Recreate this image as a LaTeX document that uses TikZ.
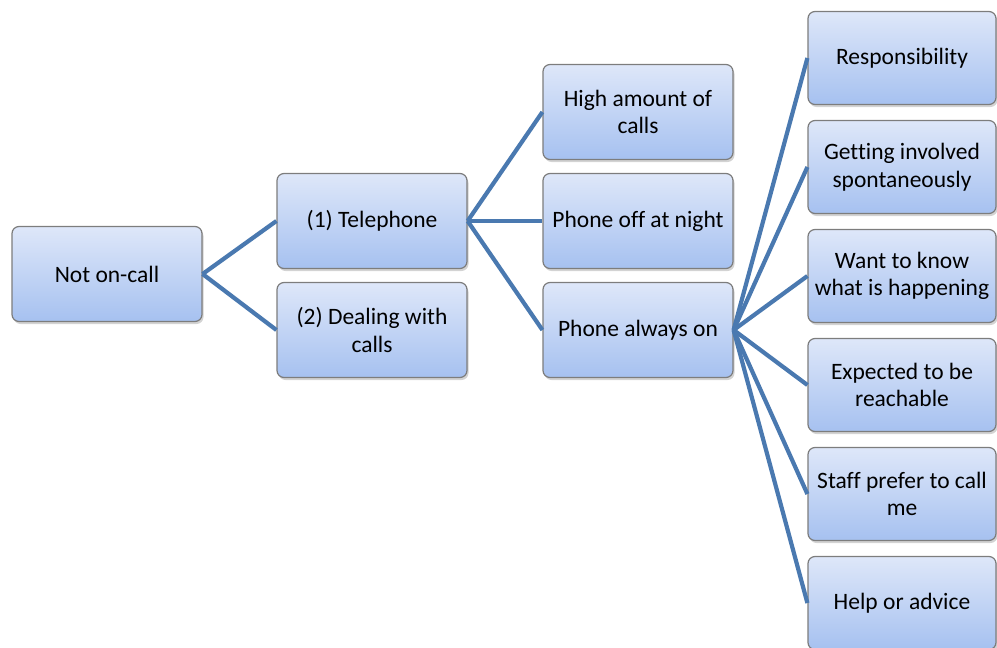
\documentclass[tikz,border=0pt]{standalone}
\usepackage{fontspec}
\setmainfont[Ligatures={NoCommon}]{Carlito}
\usetikzlibrary{shadows}
\definecolor{linkblue}{RGB}{74,121,176}
\definecolor{boxtop}{RGB}{222,231,249}
\definecolor{boxbot}{RGB}{166,193,240}
\definecolor{boxedge}{RGB}{125,125,125}
\tikzset{
  topic/.style={
    draw=boxedge, line width=1.2pt, rounded corners=7pt,
    top color=boxtop, bottom color=boxbot,
    minimum width=190pt, minimum height=95pt,
    align=center, inner sep=2pt,
    font=\fontsize{23.5}{27.5}\selectfont,
    drop shadow={shadow xshift=1.5pt, shadow yshift=-2.5pt, opacity=0.35}
  },
  leaf/.style={topic, minimum width=188pt, minimum height=93pt},
  link/.style={draw=linkblue, line width=4.2pt}
}
\begin{document}
\begin{tikzpicture}[x=1pt, y=-1pt]
  \useasboundingbox (0,0) rectangle (997,648);

  % root and first level
  \node[topic] (root) at (107,274) {Not on-call};
  \node[topic] (tel)  at (372,221) {(1) Telephone};
  \node[topic] (deal) at (372,330) {(2) Dealing with\\calls};

  % second level
  \node[topic] (high) at (638,112) {High amount of\\calls};
  \node[topic] (off)  at (638,221) {Phone off at night};
  \node[topic] (on)   at (638,330) {Phone always on};

  % third level
  \node[leaf] (r1) at (902,58)  {Responsibility};
  \node[leaf] (r2) at (902,167) {Getting involved\\spontaneously};
  \node[leaf] (r3) at (902,276) {Want to know\\what is happening};
  \node[leaf] (r4) at (902,385) {Expected to be\\reachable};
  \node[leaf] (r5) at (902,494) {Staff prefer to call\\me};
  \node[leaf] (r6) at (902,603) {Help or advice};

  % connectors
  \foreach \c in {tel,deal} \draw[link] (root.east) -- (\c.west);
  \foreach \c in {high,off,on} \draw[link] (tel.east) -- (\c.west);
  \foreach \c in {r1,r2,r3,r4,r5,r6} \draw[link] (on.east) -- (\c.west);
\end{tikzpicture}
\end{document}
